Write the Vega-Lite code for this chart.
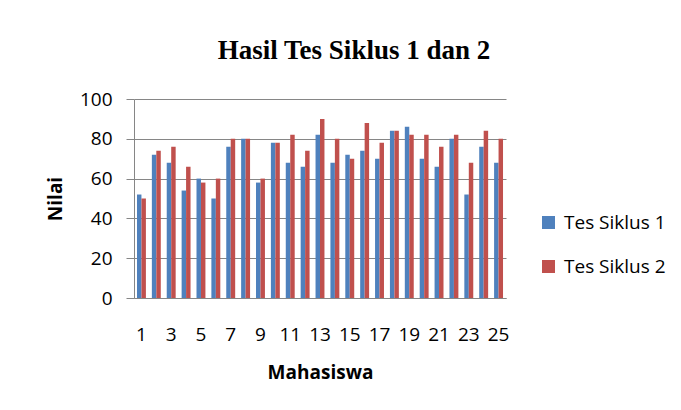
{
  "$schema": "https://vega.github.io/schema/vega-lite/v6.json",
  "width": 372,
  "height": 199,
  "autosize": {"type": "none"},
  "padding": {"left": 134, "top": 99, "right": 175, "bottom": 112},
  "background": "white",
  "config": {
    "view": {"stroke": null},
    "font": "Open Sans"
  },
  "title": {
    "text": "Hasil Tes Siklus 1 dan 2",
    "font": "Liberation Serif",
    "fontSize": 27,
    "fontWeight": "bold",
    "color": "#000000",
    "anchor": "middle",
    "frame": "group",
    "dx": 34,
    "baseline": "alphabetic",
    "offset": 4
  },
  "data": {
    "values": [
      {"Mahasiswa": 1, "Seri": "Tes Siklus 1", "Nilai": 52},
      {"Mahasiswa": 1, "Seri": "Tes Siklus 2", "Nilai": 50},
      {"Mahasiswa": 2, "Seri": "Tes Siklus 1", "Nilai": 72},
      {"Mahasiswa": 2, "Seri": "Tes Siklus 2", "Nilai": 74},
      {"Mahasiswa": 3, "Seri": "Tes Siklus 1", "Nilai": 68},
      {"Mahasiswa": 3, "Seri": "Tes Siklus 2", "Nilai": 76},
      {"Mahasiswa": 4, "Seri": "Tes Siklus 1", "Nilai": 54},
      {"Mahasiswa": 4, "Seri": "Tes Siklus 2", "Nilai": 66},
      {"Mahasiswa": 5, "Seri": "Tes Siklus 1", "Nilai": 60},
      {"Mahasiswa": 5, "Seri": "Tes Siklus 2", "Nilai": 58},
      {"Mahasiswa": 6, "Seri": "Tes Siklus 1", "Nilai": 50},
      {"Mahasiswa": 6, "Seri": "Tes Siklus 2", "Nilai": 60},
      {"Mahasiswa": 7, "Seri": "Tes Siklus 1", "Nilai": 76},
      {"Mahasiswa": 7, "Seri": "Tes Siklus 2", "Nilai": 80},
      {"Mahasiswa": 8, "Seri": "Tes Siklus 1", "Nilai": 80},
      {"Mahasiswa": 8, "Seri": "Tes Siklus 2", "Nilai": 80},
      {"Mahasiswa": 9, "Seri": "Tes Siklus 1", "Nilai": 58},
      {"Mahasiswa": 9, "Seri": "Tes Siklus 2", "Nilai": 60},
      {"Mahasiswa": 10, "Seri": "Tes Siklus 1", "Nilai": 78},
      {"Mahasiswa": 10, "Seri": "Tes Siklus 2", "Nilai": 78},
      {"Mahasiswa": 11, "Seri": "Tes Siklus 1", "Nilai": 68},
      {"Mahasiswa": 11, "Seri": "Tes Siklus 2", "Nilai": 82},
      {"Mahasiswa": 12, "Seri": "Tes Siklus 1", "Nilai": 66},
      {"Mahasiswa": 12, "Seri": "Tes Siklus 2", "Nilai": 74},
      {"Mahasiswa": 13, "Seri": "Tes Siklus 1", "Nilai": 82},
      {"Mahasiswa": 13, "Seri": "Tes Siklus 2", "Nilai": 90},
      {"Mahasiswa": 14, "Seri": "Tes Siklus 1", "Nilai": 68},
      {"Mahasiswa": 14, "Seri": "Tes Siklus 2", "Nilai": 80},
      {"Mahasiswa": 15, "Seri": "Tes Siklus 1", "Nilai": 72},
      {"Mahasiswa": 15, "Seri": "Tes Siklus 2", "Nilai": 70},
      {"Mahasiswa": 16, "Seri": "Tes Siklus 1", "Nilai": 74},
      {"Mahasiswa": 16, "Seri": "Tes Siklus 2", "Nilai": 88},
      {"Mahasiswa": 17, "Seri": "Tes Siklus 1", "Nilai": 70},
      {"Mahasiswa": 17, "Seri": "Tes Siklus 2", "Nilai": 78},
      {"Mahasiswa": 18, "Seri": "Tes Siklus 1", "Nilai": 84},
      {"Mahasiswa": 18, "Seri": "Tes Siklus 2", "Nilai": 84},
      {"Mahasiswa": 19, "Seri": "Tes Siklus 1", "Nilai": 86},
      {"Mahasiswa": 19, "Seri": "Tes Siklus 2", "Nilai": 82},
      {"Mahasiswa": 20, "Seri": "Tes Siklus 1", "Nilai": 70},
      {"Mahasiswa": 20, "Seri": "Tes Siklus 2", "Nilai": 82},
      {"Mahasiswa": 21, "Seri": "Tes Siklus 1", "Nilai": 66},
      {"Mahasiswa": 21, "Seri": "Tes Siklus 2", "Nilai": 76},
      {"Mahasiswa": 22, "Seri": "Tes Siklus 1", "Nilai": 80},
      {"Mahasiswa": 22, "Seri": "Tes Siklus 2", "Nilai": 82},
      {"Mahasiswa": 23, "Seri": "Tes Siklus 1", "Nilai": 52},
      {"Mahasiswa": 23, "Seri": "Tes Siklus 2", "Nilai": 68},
      {"Mahasiswa": 24, "Seri": "Tes Siklus 1", "Nilai": 76},
      {"Mahasiswa": 24, "Seri": "Tes Siklus 2", "Nilai": 84},
      {"Mahasiswa": 25, "Seri": "Tes Siklus 1", "Nilai": 68},
      {"Mahasiswa": 25, "Seri": "Tes Siklus 2", "Nilai": 80}
    ]
  },
  "mark": {"type": "bar"},
  "encoding": {
    "x": {
      "field": "Mahasiswa",
      "type": "ordinal",
      "sort": "ascending",
      "scale": {"paddingInner": 0.4, "paddingOuter": 0.2},
      "axis": {
        "title": "Mahasiswa",
        "titleFont": "Open Sans",
        "titleFontSize": 19,
        "titleFontWeight": "bold",
        "titleColor": "#000000",
        "titlePadding": 19,
        "labelAngle": 0,
        "labelFont": "Open Sans",
        "labelFontSize": 19,
        "labelColor": "#000000",
        "labelPadding": 27,
        "labelExpr": "datum.value % 2 === 1 ? datum.label : ''",
        "ticks": false,
        "domainColor": "#868686",
        "domainWidth": 1,
        "grid": false
      }
    },
    "xOffset": {"field": "Seri", "type": "nominal"},
    "y": {
      "field": "Nilai",
      "type": "quantitative",
      "scale": {"domain": [0, 100], "nice": false},
      "axis": {
        "title": "Nilai",
        "titleFont": "Open Sans",
        "titleFontSize": 19,
        "titleFontWeight": "bold",
        "titleColor": "#000000",
        "titlePadding": 14,
        "values": [0, 20, 40, 60, 80, 100],
        "labelFont": "Open Sans",
        "labelFontSize": 19,
        "labelColor": "#000000",
        "labelPadding": 14,
        "tickSize": 8,
        "tickColor": "#868686",
        "domainColor": "#868686",
        "gridColor": "#868686",
        "gridWidth": 1,
        "grid": true
      }
    },
    "color": {
      "field": "Seri",
      "type": "nominal",
      "scale": {"domain": ["Tes Siklus 1", "Tes Siklus 2"], "range": ["#4F81BD", "#C0504D"]},
      "legend": {
        "title": null,
        "orient": "none",
        "legendX": 405,
        "legendY": 114,
        "symbolType": "square",
        "symbolSize": 169,
        "symbolStrokeWidth": 0,
        "labelFont": "Open Sans",
        "labelFontSize": 19,
        "labelColor": "#000000",
        "labelOffset": 6,
        "rowPadding": 24
      }
    }
  }
}
